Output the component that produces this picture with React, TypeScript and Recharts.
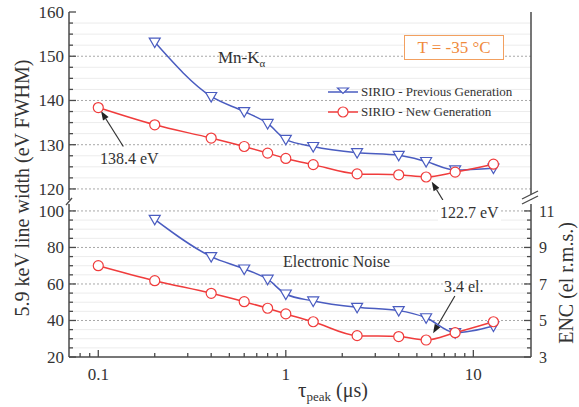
import React from 'react';
import { LineChart, Line, XAxis, YAxis, ReferenceLine } from 'recharts';

// ---------- data ----------
const tau = [0.1, 0.2, 0.4, 0.6, 0.8, 1.0, 1.4, 2.4, 4.0, 5.6, 8.0, 12.8];
const prevFwhm = [null, 153.2, 140.9, 137.5, 134.8, 131.2, 129.6, 128.2, 127.6, 126.2, 124.3, 124.7];
const newFwhm = [138.4, 134.5, 131.5, 129.6, 128.1, 126.9, 125.5, 123.4, 123.2, 122.7, 123.8, 125.6];
const prevNoise = [null, 95.4, 75.0, 68.2, 62.6, 54.5, 50.7, 47.2, 45.4, 41.5, 33.3, 37.0];
const newNoise = [70.0, 61.8, 54.9, 50.3, 46.7, 43.6, 39.3, 31.7, 31.2, 29.3, 33.3, 39.3];

const xTicks = [0.08, 0.09, 0.1, 0.2, 0.3, 0.4, 0.5, 0.6, 0.7, 0.8, 0.9, 1, 2, 3, 4, 5, 6, 7, 8, 9, 10];
const xMajor = [0.1, 1, 10];
const topTicks = [120, 122.5, 125, 127.5, 130, 132.5, 135, 137.5, 140, 142.5, 145, 147.5, 150, 152.5, 155, 157.5, 160];
const topMajor = [120, 130, 140, 150, 160];
const botTicks = [20, 25, 30, 35, 40, 45, 50, 55, 60, 65, 70, 75, 80, 85, 90, 95, 100];
const botMajor = [20, 40, 60, 80, 100];
const encTicks = [3, 3.5, 4, 4.5, 5, 5.5, 6, 6.5, 7, 7.5, 8, 8.5, 9, 9.5, 10, 10.5, 11];
const encMajor = [3, 5, 7, 9, 11];

const topData = tau.map((t, i) => ({ tau: t, prev: prevFwhm[i], neu: newFwhm[i] }));
const botData = tau.map((t, i) => ({ tau: t, prev: prevNoise[i], neu: newNoise[i] }));

// ---------- styles ----------
const X_DOMAIN: [number, number] = [0.0698, 20.3];
const TOP_DOMAIN: [number, number] = [117.5, 160];
const BOT_DOMAIN: [number, number] = [20, 103.8];
const ENC_DOMAIN: [number, number] = [3, 11.38];
const AXIS = '#4a4a4a';
const TXT = '#333';
const BLUE = '#4a5cc0';
const RED = '#f03c3c';
const FONT = '"Liberation Serif", "Times New Roman", serif';

const isIn = (arr: number[], v: number) => arr.some((a) => Math.abs(a - v) < 1e-9);

const BottomXTick = (p: any) => {
  const { x, y, payload } = p;
  const major = isIn(xMajor, payload.value);
  return (
    <g>
      <line x1={x} y1={y} x2={x} y2={y - (major ? 7 : 4)} stroke={AXIS} strokeWidth={1.3} />
      {major && (
        <text x={x} y={y + 23} textAnchor="middle" fontSize={17} fill={TXT}>
          {String(payload.value)}
        </text>
      )}
    </g>
  );
};

const TopXTick = (p: any) => {
  const { x, y, payload } = p;
  const major = isIn(xMajor, payload.value);
  return <line x1={x} y1={y} x2={x} y2={y + (major ? 7 : 4)} stroke={AXIS} strokeWidth={1.3} />;
};

const makeLeftTick = (major: number[]) => (p: any) => {
  const { x, y, payload } = p;
  const isMaj = isIn(major, payload.value);
  return (
    <g>
      <line x1={x} y1={y} x2={x + (isMaj ? 7 : 4)} y2={y} stroke={AXIS} strokeWidth={1.3} />
      {isMaj && (
        <text x={x - 5} y={y} dy="0.35em" textAnchor="end" fontSize={17} fill={TXT}>
          {String(payload.value)}
        </text>
      )}
    </g>
  );
};

const RightTick = (p: any) => {
  const { x, y, payload } = p;
  const isMaj = isIn(encMajor, payload.value);
  return (
    <g>
      <line x1={x} y1={y} x2={x - (isMaj ? 7 : 4)} y2={y} stroke={AXIS} strokeWidth={1.3} />
      {isMaj && (
        <text x={x + 8} y={y} dy="0.35em" textAnchor="start" fontSize={16} fill={TXT}>
          {String(payload.value)}
        </text>
      )}
    </g>
  );
};

const Tri = (p: any) => {
  const { cx, cy, value, index } = p;
  if (cx == null || cy == null || value == null) return <g key={`t${index}`} />;
  return (
    <polygon
      key={`t${index}`}
      points={`${cx - 5.5},${cy - 4} ${cx + 5.5},${cy - 4} ${cx},${cy + 5.5}`}
      fill="#fff"
      stroke={BLUE}
      strokeWidth={1.2}
    />
  );
};

const Circ = (p: any) => {
  const { cx, cy, value, index } = p;
  if (cx == null || cy == null || value == null) return <g key={`c${index}`} />;
  return <circle key={`c${index}`} cx={cx} cy={cy} r={5} fill="#fff" stroke={RED} strokeWidth={1.2} />;
};

const Arrow = (p: any) => {
  const { x1, y1, x2, y2 } = p;
  const ang = Math.atan2(y2 - y1, x2 - x1);
  const L = 9;
  const W = 3.3;
  const bx = x2 - L * Math.cos(ang);
  const by = y2 - L * Math.sin(ang);
  const pts = `${x2},${y2} ${bx + W * Math.sin(ang)},${by - W * Math.cos(ang)} ${bx - W * Math.sin(ang)},${by + W * Math.cos(ang)}`;
  return (
    <g>
      <line x1={x1} y1={y1} x2={bx} y2={by} stroke="#333" strokeWidth={1.2} />
      <polygon points={pts} fill="#222" />
    </g>
  );
};

const gridLines = (ticks: number[], major: number[], axisId: string, skip: number[]) =>
  ticks
    .filter((t) => !isIn(skip, t))
    .map((t) =>
      isIn(major, t) ? (
        <ReferenceLine key={`g${t}`} yAxisId={axisId} y={t} stroke="#a8a8a8" strokeDasharray="2 2" strokeWidth={1} />
      ) : (
        <ReferenceLine key={`g${t}`} yAxisId={axisId} y={t} stroke="#ececec" strokeWidth={1} />
      )
    );

const axisLine = { stroke: AXIS, strokeWidth: 1.5 };

export default function App() {
  return (
    <div
      style={{
        position: 'absolute',
        left: 0,
        top: 0,
        width: 579,
        height: 407,
        background: '#fff',
        fontFamily: FONT,
        color: TXT,
        overflow: 'hidden',
      }}
    >
      {/* top panel: FWHM */}
      <div style={{ position: 'absolute', left: 0, top: 0 }}>
        <LineChart width={579} height={200} data={topData} margin={{ top: 12, right: 0, bottom: 0, left: 0 }}>
          <XAxis
            dataKey="tau"
            type="number"
            scale="log"
            domain={X_DOMAIN}
            allowDataOverflow
            orientation="top"
            height={0}
            ticks={xTicks}
            interval={0}
            tickSize={0}
            tickMargin={0}
            tickLine={false}
            axisLine={axisLine}
            tick={(p: any) => <TopXTick {...p} />}
          />
          <YAxis
            yAxisId="l"
            width={69}
            domain={TOP_DOMAIN}
            allowDataOverflow
            type="number"
            ticks={topTicks}
            interval={0}
            tickSize={0}
            tickMargin={0}
            tickLine={false}
            axisLine={axisLine}
            tick={makeLeftTick(topMajor)}
          />
          <YAxis yAxisId="r" orientation="right" width={48} domain={[0, 1]} type="number" tick={false} tickLine={false} axisLine={axisLine} />
          {gridLines(topTicks, topMajor, 'l', [160])}
          <ReferenceLine
            yAxisId="l"
            segment={[{ x: 0.136, y: 129.6 }, { x: 0.1034, y: 137.6 }]}
            ifOverflow="visible"
            shape={(p: any) => <Arrow {...p} />}
          />
          <ReferenceLine
            yAxisId="l"
            segment={[{ x: 6.88, y: 117.5 }, { x: 6.0, y: 121.6 }]}
            ifOverflow="visible"
            shape={(p: any) => <Arrow {...p} />}
          />
          <Line yAxisId="l" dataKey="prev" type="monotone" stroke={BLUE} strokeWidth={1.5} dot={Tri} activeDot={false} isAnimationActive={false} />
          <Line yAxisId="l" dataKey="neu" type="monotone" stroke={RED} strokeWidth={1.5} dot={Circ} activeDot={false} isAnimationActive={false} />
        </LineChart>
      </div>

      {/* bottom panel: noise (svg starts higher so the "100" label is not clipped; plot top stays at y=204) */}
      <div style={{ position: 'absolute', left: 0, top: 192 }}>
        <LineChart width={579} height={215} data={botData} margin={{ top: 12, right: 0, bottom: 0, left: 0 }}>
          <XAxis
            dataKey="tau"
            type="number"
            scale="log"
            domain={X_DOMAIN}
            allowDataOverflow
            orientation="bottom"
            height={50}
            ticks={xTicks}
            interval={0}
            tickSize={0}
            tickMargin={0}
            tickLine={false}
            axisLine={axisLine}
            tick={(p: any) => <BottomXTick {...p} />}
          />
          <YAxis
            yAxisId="l"
            width={69}
            domain={BOT_DOMAIN}
            allowDataOverflow
            type="number"
            ticks={botTicks}
            interval={0}
            tickSize={0}
            tickMargin={0}
            tickLine={false}
            axisLine={axisLine}
            tick={makeLeftTick(botMajor)}
          />
          <YAxis
            yAxisId="r"
            orientation="right"
            width={48}
            domain={ENC_DOMAIN}
            allowDataOverflow
            type="number"
            ticks={encTicks}
            interval={0}
            tickSize={0}
            tickMargin={0}
            tickLine={false}
            axisLine={axisLine}
            tick={(p: any) => <RightTick {...p} />}
          />
          {gridLines(botTicks, botMajor, 'l', [20])}
          <ReferenceLine
            yAxisId="l"
            segment={[{ x: 7.97, y: 53.4 }, { x: 6.1, y: 33.0 }]}
            ifOverflow="visible"
            shape={(p: any) => <Arrow {...p} />}
          />
          <Line yAxisId="l" dataKey="prev" type="monotone" stroke={BLUE} strokeWidth={1.5} dot={Tri} activeDot={false} isAnimationActive={false} />
          <Line yAxisId="l" dataKey="neu" type="monotone" stroke={RED} strokeWidth={1.5} dot={Circ} activeDot={false} isAnimationActive={false} />
        </LineChart>
      </div>

      {/* overlay: titles and axis breaks */}
      <svg width={579} height={407} style={{ position: 'absolute', left: 0, top: 0, pointerEvents: 'none' }}>
        <text
          x={22}
          y={188}
          transform="rotate(-90, 22, 188)"
          textAnchor="middle"
          dominantBaseline="central"
          fontSize={20}
          fill={TXT}
        >
          5.9 keV line width (eV FWHM)
        </text>
        <text
          x={566}
          y={283}
          transform="rotate(-90, 566, 283)"
          textAnchor="middle"
          dominantBaseline="central"
          fontSize={20}
          fill={TXT}
        >
          ENC (el r.m.s.)
        </text>
        <text x={333} y={397} textAnchor="middle" fill={TXT}>
          <tspan fontSize={21}>τ</tspan>
          <tspan fontSize={13} dy={4}>peak</tspan>
          <tspan fontSize={20} dy={-4}> (μs)</tspan>
        </text>
        <line x1={66} y1={205} x2={72} y2={198} stroke={AXIS} strokeWidth={1.3} />
        <polygon points="522,204 538,196 538,191 522,199" fill="#fff" />
        <line x1={522} y1={204} x2={538} y2={196} stroke={AXIS} strokeWidth={1.3} />
        <line x1={522} y1={199} x2={538} y2={191} stroke={AXIS} strokeWidth={1.3} />
      </svg>

      {/* annotations */}
      <div style={{ position: 'absolute', left: 218, top: 48, fontSize: 17, lineHeight: '20px', whiteSpace: 'nowrap' }}>
        Mn-K<sub style={{ fontSize: 11 }}>α</sub>
      </div>
      <div style={{ position: 'absolute', left: 100, top: 150, fontSize: 16, lineHeight: '18px', whiteSpace: 'nowrap' }}>138.4 eV</div>
      <div
        style={{
          position: 'absolute',
          left: 438,
          top: 204,
          fontSize: 16,
          lineHeight: '18px',
          whiteSpace: 'nowrap',
          background: '#fff',
          padding: '0 2px',
        }}
      >
        122.7 eV
      </div>
      <div style={{ position: 'absolute', left: 283, top: 253, fontSize: 16, lineHeight: '18px', whiteSpace: 'nowrap' }}>Electronic Noise</div>
      <div style={{ position: 'absolute', left: 444, top: 278, fontSize: 16, lineHeight: '18px', whiteSpace: 'nowrap' }}>3.4 el.</div>
      <div
        style={{
          position: 'absolute',
          left: 404,
          top: 35,
          width: 98,
          height: 23,
          border: '1px solid #f2a060',
          background: '#fff',
          color: '#f08a3c',
          fontSize: 17,
          lineHeight: '23px',
          textAlign: 'center',
          whiteSpace: 'nowrap',
        }}
      >
        T = -35 °C
      </div>

      {/* legend */}
      <div style={{ position: 'absolute', left: 326, top: 82, fontSize: 13, lineHeight: '20px', whiteSpace: 'nowrap' }}>
        {[
          { name: 'SIRIO - Previous Generation', color: BLUE, kind: 'tri' },
          { name: 'SIRIO - New Generation', color: RED, kind: 'circ' },
        ].map((e) => (
          <div key={e.name} style={{ display: 'flex', alignItems: 'center', height: 20 }}>
            <svg width={34} height={20}>
              <line x1={2} y1={10} x2={32} y2={10} stroke={e.color} strokeWidth={1.5} />
              {e.kind === 'tri' ? (
                <polygon points="11.5,6 22.5,6 17,11.5" fill="#fff" stroke={e.color} strokeWidth={1.2} />
              ) : (
                <circle cx={17} cy={10} r={5} fill="#fff" stroke={e.color} strokeWidth={1.2} />
              )}
            </svg>
            <span style={{ marginLeft: 1 }}>{e.name}</span>
          </div>
        ))}
      </div>
    </div>
  );
}
